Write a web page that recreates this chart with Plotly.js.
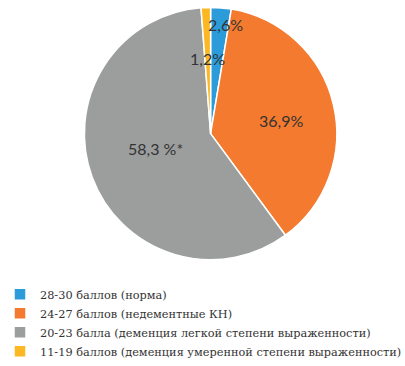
<!DOCTYPE html>
<html><head><meta charset="utf-8">
<script src="https://cdn.plot.ly/plotly-3.0.1.min.js"></script>
<style>html,body{margin:0;padding:0;background:#fff}#c{width:405px;height:366px}</style>
</head><body><div id="c"></div>
<script>
const categories = ["28-30 баллов (норма)", "24-27 баллов (недементные КН)", "20-23 балла (деменция легкой степени выраженности)", "11-19 баллов (деменция умеренной степени выраженности)"];
const values = [2.6, 36.9, 58.3, 1.2];
const valueLabels = ["2,6%", "36,9%", "58,3 %*", "1,2%"];
const colors = ["#2B9BD9", "#F37A2E", "#9C9E9E", "#FBB823"];
// label placement (fraction of radius, angle offset in degrees) – styling only
const labelRadius = [0.87, 0.56, 0.46, 0.59];
const labelAngleShift = [3.3, 5, 1.5, 0];

const W = 405, H = 366;
const dom = {x: [0.18, 0.86], y: [0.262, 0.979]};
const cx = 210.5 / W, cy = 1 - 135.5 / H;
const rPx = 127.5;
const total = values.reduce((a, b) => a + b, 0);
let cum = 0;
const annotations = values.map((v, i) => {
  const mid = (cum + v / 2) / total * 360 + labelAngleShift[i];
  cum += v;
  const a = mid * Math.PI / 180;
  const r = labelRadius[i] * rPx;
  return {
    x: cx + r * Math.sin(a) / W, y: cy + r * Math.cos(a) / H,
    xref: "paper", yref: "paper", xanchor: "center", yanchor: "middle",
    text: valueLabels[i], showarrow: false,
    font: {family: "Lato, 'Open Sans', sans-serif", size: 16, color: "#333333"}
  };
});

Plotly.newPlot("c", [{
  type: "pie", labels: categories, values: values, sort: false, direction: "clockwise", rotation: 0,
  marker: {colors: colors, line: {color: "#ffffff", width: 1.5}},
  textinfo: "none", hoverinfo: "none", domain: dom
}], {
  width: W, height: H, margin: {l: 0, r: 0, t: 0, b: 0},
  paper_bgcolor: "#fff", plot_bgcolor: "#fff",
  showlegend: true,
  legend: {orientation: "v", x: 0.0025, xanchor: "left", y: 0.205, yanchor: "top",
    font: {family: "'DejaVu Serif', serif", size: 11.3, color: "#333333"}, itemwidth: 30, bgcolor: "rgba(0,0,0,0)"},
  annotations: annotations
}, {displayModeBar: false, staticPlot: true});
</script></body></html>
